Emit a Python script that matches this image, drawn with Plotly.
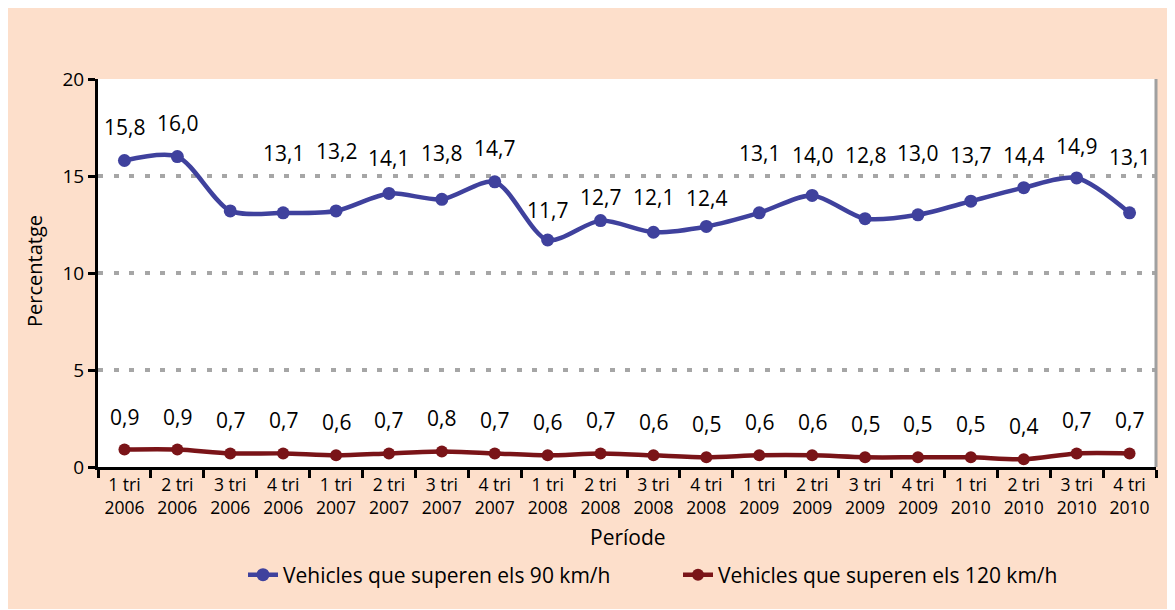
import plotly.graph_objects as go

# ---- data ----
periods = ["1 tri<br>2006", "2 tri<br>2006", "3 tri<br>2006", "4 tri<br>2006",
           "1 tri<br>2007", "2 tri<br>2007", "3 tri<br>2007", "4 tri<br>2007",
           "1 tri<br>2008", "2 tri<br>2008", "3 tri<br>2008", "4 tri<br>2008",
           "1 tri<br>2009", "2 tri<br>2009", "3 tri<br>2009", "4 tri<br>2009",
           "1 tri<br>2010", "2 tri<br>2010", "3 tri<br>2010", "4 tri<br>2010"]
over90 = [15.8, 16.0, 13.2, 13.1, 13.2, 14.1, 13.8, 14.7, 11.7, 12.7,
          12.1, 12.4, 13.1, 14.0, 12.8, 13.0, 13.7, 14.4, 14.9, 13.1]
over90_labels = ["15,8", "16,0", "", "13,1", "13,2", "14,1", "13,8", "14,7", "11,7", "12,7",
                 "12,1", "12,4", "13,1", "14,0", "12,8", "13,0", "13,7", "14,4", "14,9", "13,1"]
over120 = [0.9, 0.9, 0.7, 0.7, 0.6, 0.7, 0.8, 0.7, 0.6, 0.7,
           0.6, 0.5, 0.6, 0.6, 0.5, 0.5, 0.5, 0.4, 0.7, 0.7]
over120_labels = ["0,9", "0,9", "0,7", "0,7", "0,6", "0,7", "0,8", "0,7", "0,6", "0,7",
                  "0,6", "0,5", "0,6", "0,6", "0,5", "0,5", "0,5", "0,4", "0,7", "0,7"]
y_ticks = [0, 5, 10, 15, 20]

# ---- style ----
BLUE = "#3F419D"
RED = "#7A1418"
PEACH = "#FDDFCB"
FONT = "Open Sans"
# label offsets (px above point) as placed in the original
blue_shift = [33, 34, 0, 60, 60, 35, 46, 34, 30, 24, 35, 28, 60, 40, 64, 62, 46, 33, 32, 56]
red_shift = 33

PAGE = 8  # browser body margin
W, H = 1167, 601
ML, MR, MT, MB = 90, 19, 71, 142
PW, PH = W - ML - MR, H - MT - MB


def px_x(p):  # page pixel -> paper x
    return (p - PAGE - ML) / PW


def px_y(p):  # page pixel -> paper y
    return (H - MB - (p - PAGE)) / PH


fig = go.Figure()
fig.add_trace(go.Scatter(
    x=periods, y=over90, name="Vehicles que superen els 90 km/h",
    mode="lines+markers", line=dict(color=BLUE, width=4.5, shape="spline", smoothing=0.8),
    marker=dict(color=BLUE, size=13), cliponaxis=False, legend="legend"))
fig.add_trace(go.Scatter(
    x=periods, y=over120, name="Vehicles que superen els 120 km/h",
    mode="lines+markers", line=dict(color=RED, width=4.5, shape="spline", smoothing=0.8),
    marker=dict(color=RED, size=12), cliponaxis=False, legend="legend2"))

annotations = []
for xv, yv, t, s in zip(periods, over90, over90_labels, blue_shift):
    if t:
        annotations.append(dict(x=xv, y=yv, text=t, showarrow=False, yshift=s,
                                yanchor="middle", font=dict(family=FONT, size=21, color="black")))
for xv, yv, t in zip(periods, over120, over120_labels):
    annotations.append(dict(x=xv, y=yv, text=t, showarrow=False, yshift=red_shift,
                            yanchor="middle", font=dict(family=FONT, size=21, color="black")))
annotations.append(dict(xref="paper", yref="paper", x=px_x(628), y=px_y(537), text="Període",
                        showarrow=False, xanchor="center", yanchor="middle",
                        font=dict(family=FONT, size=21, color="black")))
annotations.append(dict(xref="paper", yref="paper", x=px_x(34), y=px_y(271), text="Percentatge",
                        showarrow=False, textangle=-90, xanchor="center", yanchor="middle",
                        font=dict(family=FONT, size=20, color="black")))

shapes = [
    dict(type="line", xref="paper", yref="paper", x0=1, x1=1, y0=0, y1=1,
         line=dict(color="#A0A0A0", width=3), layer="above"),
]

legend_common = dict(orientation="h", xanchor="left", y=px_y(575), yanchor="middle",
                     font=dict(family=FONT, size=21, color="black"), bgcolor="rgba(0,0,0,0)")

fig.update_layout(
    width=W, height=H,
    margin=dict(l=ML, r=MR, t=MT, b=MB, autoexpand=False),
    paper_bgcolor=PEACH, plot_bgcolor="white",
    font=dict(family=FONT, color="black"),
    showlegend=True,
    legend=dict(x=px_x(243), **legend_common),
    legend2=dict(x=px_x(678), **legend_common),
    annotations=annotations, shapes=shapes,
    xaxis=dict(type="category", categoryorder="array", categoryarray=periods,
               showline=True, linecolor="black", linewidth=3,
               ticks="outside", tickson="boundaries", ticklen=8, tickwidth=3, tickcolor="black",
               showgrid=False, tickfont=dict(family=FONT, size=17.5, color="black"),
               range=[-0.5, len(periods) - 0.5]),
    yaxis=dict(range=[0, 20], tickvals=y_ticks, showline=True, linecolor="black", linewidth=3,
               ticks="outside", ticklen=7, tickwidth=3, tickcolor="black",
               showgrid=True, gridcolor="#A6A6A6", gridwidth=3.5, griddash="5px,10.5px",
               zeroline=False, tickfont=dict(family=FONT, size=19, color="black")),
)

fig.write_html("out.html")
